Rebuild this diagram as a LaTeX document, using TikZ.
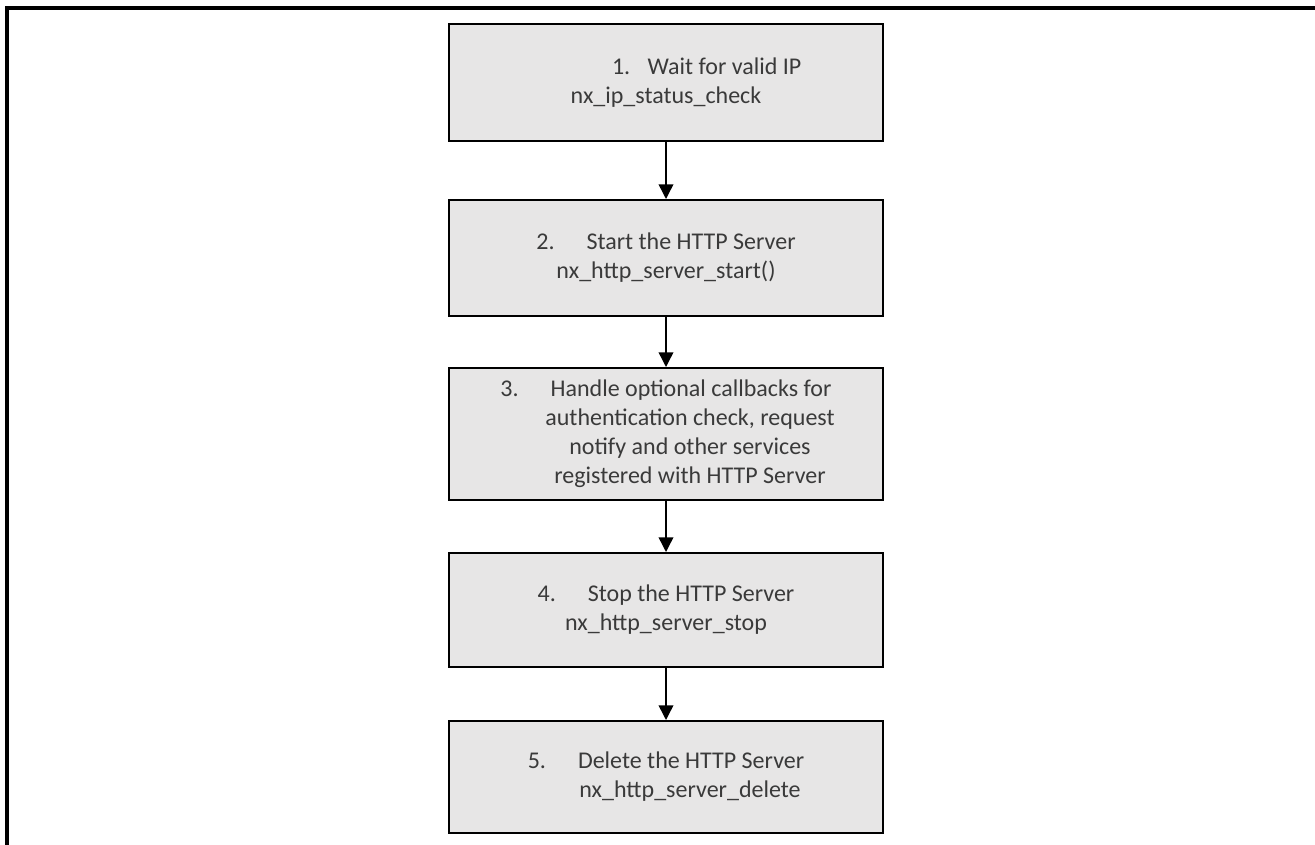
\documentclass[tikz,border=0pt]{standalone}
\usepackage{fontspec}
\setmainfont{Carlito}
\usetikzlibrary{arrows.meta}
\definecolor{boxgray}{HTML}{E7E6E6}
\definecolor{textgray}{HTML}{3A3A3A}
\newcommand{\stepno}[2][24pt]{#2.\hspace{#1}}
\newcommand{\indentline}{\hspace*{36pt}}

\begin{document}
\begin{tikzpicture}
        [x=0.75pt,y=-0.75pt,
         every node/.style={font=\fontsize{18pt}{21.75pt}\selectfont,text=textgray},
         stepbox/.style={draw=black,line width=1.5pt,fill=boxgray,minimum width=325.5pt,inner sep=0pt,align=center},
         flow/.style={-{Triangle[length=11pt,width=11pt]},line width=1.1pt}]
        \useasboundingbox (0,0) rectangle (1315,845);
        \draw[line width=2.3pt,line join=miter] (1315,8) -- (7,8) -- (7,845);

        \node[stepbox,minimum height=87.75pt] (wait) at (666,82.5) {\hspace*{61pt}\stepno[13pt]{1}Wait for valid IP\\nx\_ip\_status\_check};
        \node[stepbox,minimum height=87pt] (start) at (666,258) {\stepno{2}Start the HTTP Server\\nx\_http\_server\_start()};
        \node[stepbox,minimum height=99pt] (handle) at (666,434) {\stepno{3}Handle optional callbacks for\\\indentline authentication check, request\\\indentline notify and other services\\\indentline registered with HTTP Server};
        \node[stepbox,minimum height=85.5pt] (stop) at (666,610) {\stepno{4}Stop the HTTP Server\\nx\_http\_server\_stop};
        \node[stepbox,minimum height=84pt] (delete) at (666,777) {\stepno{5}Delete the HTTP Server\\\indentline nx\_http\_server\_delete};

        \draw[flow] (wait) -- (start);
        \draw[flow] (start) -- (handle);
        \draw[flow] (handle) -- (stop);
        \draw[flow] (stop) -- (delete);
    \end{tikzpicture}
\end{document}
